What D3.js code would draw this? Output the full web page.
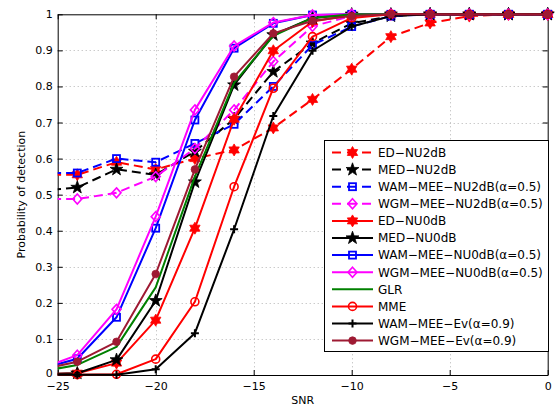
<!DOCTYPE html>
<html>
<head>
<meta charset="utf-8">
<script src="https://cdn.jsdelivr.net/npm/d3@7"></script>
<style>
body { margin: 0; background: #fff; }
svg { display: block; font-family: "DejaVu Sans", sans-serif; }
</style>
</head>
<body>
<div id="chart"></div>
<script>
// SNR 取值 (dB)，-26 点只用于让线段从左边框进入
const snr = [-26, -24, -22, -20, -18, -16, -14, -12, -10, -8, -6, -4, -2, 0];

// 各检测器的检测概率
const edNu2  = [0.555, 0.555, 0.59, 0.57, 0.60, 0.624, 0.685, 0.764, 0.848, 0.938, 0.976, 0.995, 1, 1];
const medNu2 = [0.51, 0.52, 0.57, 0.555, 0.62, 0.71, 0.841, 0.92, 0.975, 0.995, 1, 1, 1, 1];
const wamNu2 = [0.56, 0.56, 0.60, 0.59, 0.642, 0.695, 0.80, 0.915, 0.966, 0.995, 1, 1, 1, 1];
const wgmNu2 = [0.488, 0.488, 0.505, 0.55, 0.628, 0.735, 0.869, 0.967, 0.995, 1, 1, 1, 1, 1];
const edNu0  = [0.002, 0.005, 0.033, 0.152, 0.407, 0.709, 0.899, 0.98, 0.998, 1, 1, 1, 1, 1];
const medNu0 = [0.002, 0.005, 0.042, 0.206, 0.535, 0.804, 0.943, 0.99, 1, 1, 1, 1, 1, 1];
const wamNu0 = [0.015, 0.045, 0.16, 0.407, 0.707, 0.906, 0.975, 0.998, 1, 1, 1, 1, 1, 1];
const wgmNu0 = [0.015, 0.055, 0.182, 0.439, 0.735, 0.912, 0.977, 0.998, 1, 1, 1, 1, 1, 1];
const glr    = [0.008, 0.028, 0.078, 0.243, 0.55, 0.81, 0.94, 0.99, 1, 1, 1, 1, 1, 1];
const mme    = [0, 0.001, 0.002, 0.044, 0.203, 0.522, 0.795, 0.938, 0.99, 1, 1, 1, 1, 1];
const wamEv  = [0, 0.001, 0.001, 0.016, 0.116, 0.404, 0.718, 0.899, 0.966, 0.995, 1, 1, 1, 1];
const wgmEv  = [0.013, 0.037, 0.092, 0.28, 0.57, 0.827, 0.947, 0.982, 0.995, 1, 1, 1, 1, 1];

const legendLabels = [
    "ED−NU2dB", "MED−NU2dB", "WAM−MEE−NU2dB(α=0.5)", "WGM−MEE−NU2dB(α=0.5)",
    "ED−NU0dB", "MED−NU0dB", "WAM−MEE−NU0dB(α=0.5)", "WGM−MEE−NU0dB(α=0.5)",
    "GLR", "MME", "WAM−MEE−Ev(α=0.9)", "WGM−MEE−Ev(α=0.9)"
];

const xTicks = [-25, -20, -15, -10, -5, 0];
const yTicks = [0, 0.1, 0.2, 0.3, 0.4, 0.5, 0.6, 0.7, 0.8, 0.9, 1];
const yTickLabels = ["0", "0.1", "0.2", "0.3", "0.4", "0.5", "0.6", "0.7", "0.8", "0.9", "1"];

// 样式
const brown = "#9e1a33";
const series = [
    { values: edNu2,  color: "red",     dash: true,  marker: "hexagram" },
    { values: medNu2, color: "black",   dash: true,  marker: "pentagram" },
    { values: wamNu2, color: "blue",    dash: true,  marker: "square" },
    { values: wgmNu2, color: "magenta", dash: true,  marker: "diamond" },
    { values: edNu0,  color: "red",     dash: false, marker: "hexagram" },
    { values: medNu0, color: "black",   dash: false, marker: "pentagram" },
    { values: wamNu0, color: "blue",    dash: false, marker: "square" },
    { values: wgmNu0, color: "magenta", dash: false, marker: "diamond" },
    { values: glr,    color: "#008000", dash: false, marker: null },
    { values: mme,    color: "red",     dash: false, marker: "circle" },
    { values: wamEv,  color: "black",   dash: false, marker: "plus" },
    { values: wgmEv,  color: brown,     dash: false, marker: "dot" }
].map((s, i) => ({ ...s, name: legendLabels[i] }));

const width = 559;
const height = 406;

const x = d3.scaleLinear().domain([-25, 0]).range([57.7, 547.7]);
const y = d3.scaleLinear().domain([0, 1]).range([375, 14.3]);

const svg = d3.select("#chart").append("svg")
    .attr("width", width)
    .attr("height", height);

svg.append("rect").attr("width", width).attr("height", height).attr("fill", "#fff");

svg.append("defs").append("clipPath").attr("id", "plot-clip")
    .append("rect")
    .attr("x", x(-25)).attr("y", 0)
    .attr("width", x(0) - x(-25) + 10).attr("height", height);

// 网格
const grid = svg.append("g").attr("class", "grid")
    .attr("stroke", "#b4b4b4").attr("stroke-width", 1).attr("stroke-dasharray", "1,3");
grid.selectAll("line.gx").data(xTicks.slice(1, -1)).enter().append("line")
    .attr("x1", d => Math.round(x(d)) + 0.5).attr("x2", d => Math.round(x(d)) + 0.5)
    .attr("y1", y(1)).attr("y2", y(0));
grid.selectAll("line.gy").data(yTicks.slice(1, -1)).enter().append("line")
    .attr("y1", d => Math.round(y(d)) + 0.5).attr("y2", d => Math.round(y(d)) + 0.5)
    .attr("x1", x(-25)).attr("x2", x(0));

// 坐标轴
function styleAxis(g) {
    g.select(".domain").attr("stroke", "#000");
    g.selectAll(".tick line").attr("stroke", "#000");
    g.selectAll(".tick text").attr("fill", "#000").style("font-size", "11px")
        .style("font-family", "'DejaVu Sans', sans-serif");
}

svg.append("g").attr("transform", `translate(0,${y(0)})`)
    .call(d3.axisBottom(x).tickValues(xTicks).tickSizeInner(-5).tickSizeOuter(0).tickPadding(7))
    .call(styleAxis);
svg.append("g").attr("transform", `translate(0,${y(1)})`)
    .call(d3.axisTop(x).tickValues(xTicks).tickSizeInner(-5).tickSizeOuter(0).tickFormat(""))
    .call(styleAxis);
svg.append("g").attr("transform", `translate(${x(-25)},0)`)
    .call(d3.axisLeft(y).tickValues(yTicks).tickSizeInner(-5).tickSizeOuter(0).tickPadding(5)
        .tickFormat((d, i) => yTickLabels[i]))
    .call(styleAxis)
    .call(g => g.selectAll(".tick text").filter(d => d === 0).attr("dy", "0.1em"));
svg.append("g").attr("transform", `translate(${x(0)},0)`)
    .call(d3.axisRight(y).tickValues(yTicks).tickSizeInner(-5).tickSizeOuter(0).tickFormat(""))
    .call(styleAxis);

// 轴标题
svg.append("text")
    .attr("x", (x(-25) + x(0)) / 2).attr("y", 404)
    .attr("text-anchor", "middle").style("font-size", "11px")
    .text("SNR");
svg.append("text")
    .attr("transform", `translate(25,${(y(0) + y(1)) / 2}) rotate(-90)`)
    .attr("text-anchor", "middle").style("font-size", "11px")
    .text("Probability of detection");

// 星形路径
function starPath(n, rOut, rIn) {
    const pts = [];
    for (let i = 0; i < 2 * n; i++) {
        const a = -Math.PI / 2 + i * Math.PI / n;
        const r = i % 2 === 0 ? rOut : rIn;
        pts.push([r * Math.cos(a), r * Math.sin(a)]);
    }
    return "M" + pts.map(p => p[0].toFixed(2) + "," + p[1].toFixed(2)).join("L") + "Z";
}

function drawMarker(g, type, color) {
    if (type === "hexagram") {
        g.append("path").attr("d", starPath(6, 6, 3.5)).attr("fill", color).attr("stroke", color).attr("stroke-width", 0.8);
    } else if (type === "pentagram") {
        g.append("path").attr("d", starPath(5, 6.8, 2.7)).attr("fill", color).attr("stroke", color).attr("stroke-width", 0.8);
    } else if (type === "square") {
        g.append("rect").attr("x", -3.5).attr("y", -3.5).attr("width", 7).attr("height", 7)
            .attr("fill", "none").attr("stroke", color).attr("stroke-width", 1.8);
    } else if (type === "diamond") {
        g.append("path").attr("d", "M0,-5L4.5,0L0,5L-4.5,0Z")
            .attr("fill", "none").attr("stroke", color).attr("stroke-width", 1.6);
    } else if (type === "circle") {
        g.append("circle").attr("r", 4).attr("fill", "none").attr("stroke", color).attr("stroke-width", 1.6);
    } else if (type === "plus") {
        g.append("path").attr("d", "M-4,0H4M0,-4V4").attr("stroke", color).attr("stroke-width", 2);
    } else if (type === "dot") {
        g.append("circle").attr("r", 3.8).attr("fill", color).attr("stroke", color).attr("stroke-width", 0.8);
    }
}

// 曲线
const line = d3.line().x((d, i) => x(snr[i])).y(d => y(d));
const plot = svg.append("g").attr("class", "series");

series.forEach(s => {
    plot.append("path")
        .datum(s.values)
        .attr("clip-path", "url(#plot-clip)")
        .attr("d", line)
        .attr("fill", "none")
        .attr("stroke", s.color)
        .attr("stroke-width", 2)
        .attr("stroke-linejoin", "round")
        .attr("stroke-dasharray", s.dash ? "9,5" : null);

    if (s.marker) {
        s.values.forEach((v, i) => {
            if (snr[i] < -25) return;
            const g = plot.append("g").attr("transform", `translate(${x(snr[i])},${y(v)})`);
            drawMarker(g, s.marker, s.color);
        });
    }
});

// 图例
const legendBox = { x0: 324, y0: 140, x1: 548, y1: 351 };
const legend = svg.append("g").attr("class", "legend");
legend.append("rect")
    .attr("x", legendBox.x0 + 0.5).attr("y", legendBox.y0 + 0.5)
    .attr("width", legendBox.x1 - legendBox.x0).attr("height", legendBox.y1 - legendBox.y0)
    .attr("fill", "#fff").attr("stroke", "#000").attr("stroke-width", 1);

series.forEach((s, i) => {
    const ry = 152.5 + i * 17.1;
    legend.append("line")
        .attr("x1", 332).attr("x2", 373).attr("y1", ry).attr("y2", ry)
        .attr("stroke", s.color).attr("stroke-width", 2)
        .attr("stroke-dasharray", s.dash ? "9,6" : null);
    if (s.marker) {
        drawMarker(legend.append("g").attr("transform", `translate(352.5,${ry})`), s.marker, s.color);
    }
    legend.append("text")
        .attr("x", 378).attr("y", ry + 4.3)
        .style("font-size", "12px")
        .text(s.name);
});
</script>
</body>
</html>
